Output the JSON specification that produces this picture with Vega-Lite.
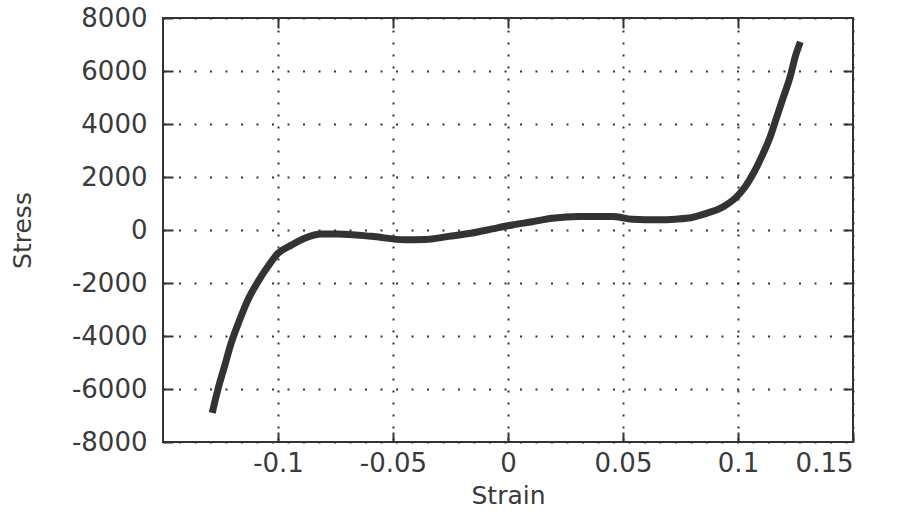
{
  "$schema": "https://vega.github.io/schema/vega-lite/v6.json",
  "width": 690,
  "height": 424,
  "autosize": {"type": "none"},
  "padding": {"left": 163, "top": 18, "right": 45, "bottom": 74},
  "background": "white",
  "config": {
    "view": {"stroke": "#333333", "strokeWidth": 2},
    "axis": {
      "labelFont": "DejaVu Sans",
      "labelFontSize": 26,
      "labelColor": "#3a3a3a",
      "titleFont": "DejaVu Sans",
      "titleFontSize": 25,
      "titleFontWeight": "normal",
      "titleColor": "#3a3a3a",
      "domain": false,
      "tickColor": "#333333",
      "tickWidth": 2,
      "gridColor": "#333333",
      "gridWidth": 2,
      "gridOpacity": 1
    }
  },
  "data": {
    "values": [
      {"strain": -0.1286, "stress": -6900},
      {"strain": -0.1262, "stress": -6040},
      {"strain": -0.1233, "stress": -5160},
      {"strain": -0.1204, "stress": -4280},
      {"strain": -0.1167, "stress": -3400},
      {"strain": -0.1131, "stress": -2640},
      {"strain": -0.1087, "stress": -1950},
      {"strain": -0.1044, "stress": -1380},
      {"strain": -0.1, "stress": -880},
      {"strain": -0.0942, "stress": -570},
      {"strain": -0.0884, "stress": -310},
      {"strain": -0.0811, "stress": -150},
      {"strain": -0.0738, "stress": -150},
      {"strain": -0.0593, "stress": -240},
      {"strain": -0.0448, "stress": -370},
      {"strain": -0.0361, "stress": -360},
      {"strain": -0.0258, "stress": -240},
      {"strain": -0.0156, "stress": -115},
      {"strain": -0.0069, "stress": 40},
      {"strain": 0.0018, "stress": 190},
      {"strain": 0.0105, "stress": 310},
      {"strain": 0.0192, "stress": 440},
      {"strain": 0.0309, "stress": 510},
      {"strain": 0.0454, "stress": 510},
      {"strain": 0.0541, "stress": 410},
      {"strain": 0.0655, "stress": 390},
      {"strain": 0.0728, "stress": 410},
      {"strain": 0.0776, "stress": 440},
      {"strain": 0.0863, "stress": 630},
      {"strain": 0.0936, "stress": 880},
      {"strain": 0.0995, "stress": 1260},
      {"strain": 0.1031, "stress": 1630},
      {"strain": 0.1067, "stress": 2140},
      {"strain": 0.1103, "stress": 2770},
      {"strain": 0.114, "stress": 3520},
      {"strain": 0.1169, "stress": 4280},
      {"strain": 0.1198, "stress": 5030},
      {"strain": 0.1227, "stress": 5790},
      {"strain": 0.1249, "stress": 6540},
      {"strain": 0.1271, "stress": 7100}
    ]
  },
  "layer": [
    {
      "mark": {"type": "line", "color": "#333333", "strokeWidth": 7, "interpolate": "monotone"},
      "encoding": {
        "x": {
          "field": "strain",
          "type": "quantitative",
          "scale": {"domain": [-0.15, 0.15], "nice": false, "zero": false},
          "axis": {
            "orient": "bottom",
            "values": [-0.1, -0.05, 0, 0.05, 0.1, 0.15],
            "labelExpr": "'' + datum.value",
            "title": "Strain",
            "tickSize": -10,
            "labelPadding": 18,
            "titlePadding": 7,
            "grid": true,
            "gridDash": [2, 10]
          }
        },
        "y": {
          "field": "stress",
          "type": "quantitative",
          "scale": {"domain": [-8000, 8000], "nice": false},
          "axis": {
            "orient": "left",
            "values": [-8000, -6000, -4000, -2000, 0, 2000, 4000, 6000, 8000],
            "labelExpr": "'' + datum.value",
            "title": "Stress",
            "tickSize": -10,
            "labelPadding": 26,
            "titlePadding": 36,
            "grid": true,
            "gridDash": [2, 13.5]
          }
        }
      }
    },
    {
      "mark": {"type": "line", "opacity": 0},
      "encoding": {
        "x": {
          "field": "strain",
          "type": "quantitative",
          "axis": {
            "orient": "top",
            "values": [-0.1, -0.05, 0, 0.05, 0.1],
            "labels": false,
            "title": null,
            "grid": false,
            "tickSize": -10
          }
        },
        "y": {
          "field": "stress",
          "type": "quantitative",
          "axis": {
            "orient": "right",
            "values": [-6000, -4000, -2000, 0, 2000, 4000, 6000],
            "labels": false,
            "title": null,
            "grid": false,
            "tickSize": -10
          }
        }
      }
    }
  ],
  "resolve": {"axis": {"x": "independent", "y": "independent"}}
}
